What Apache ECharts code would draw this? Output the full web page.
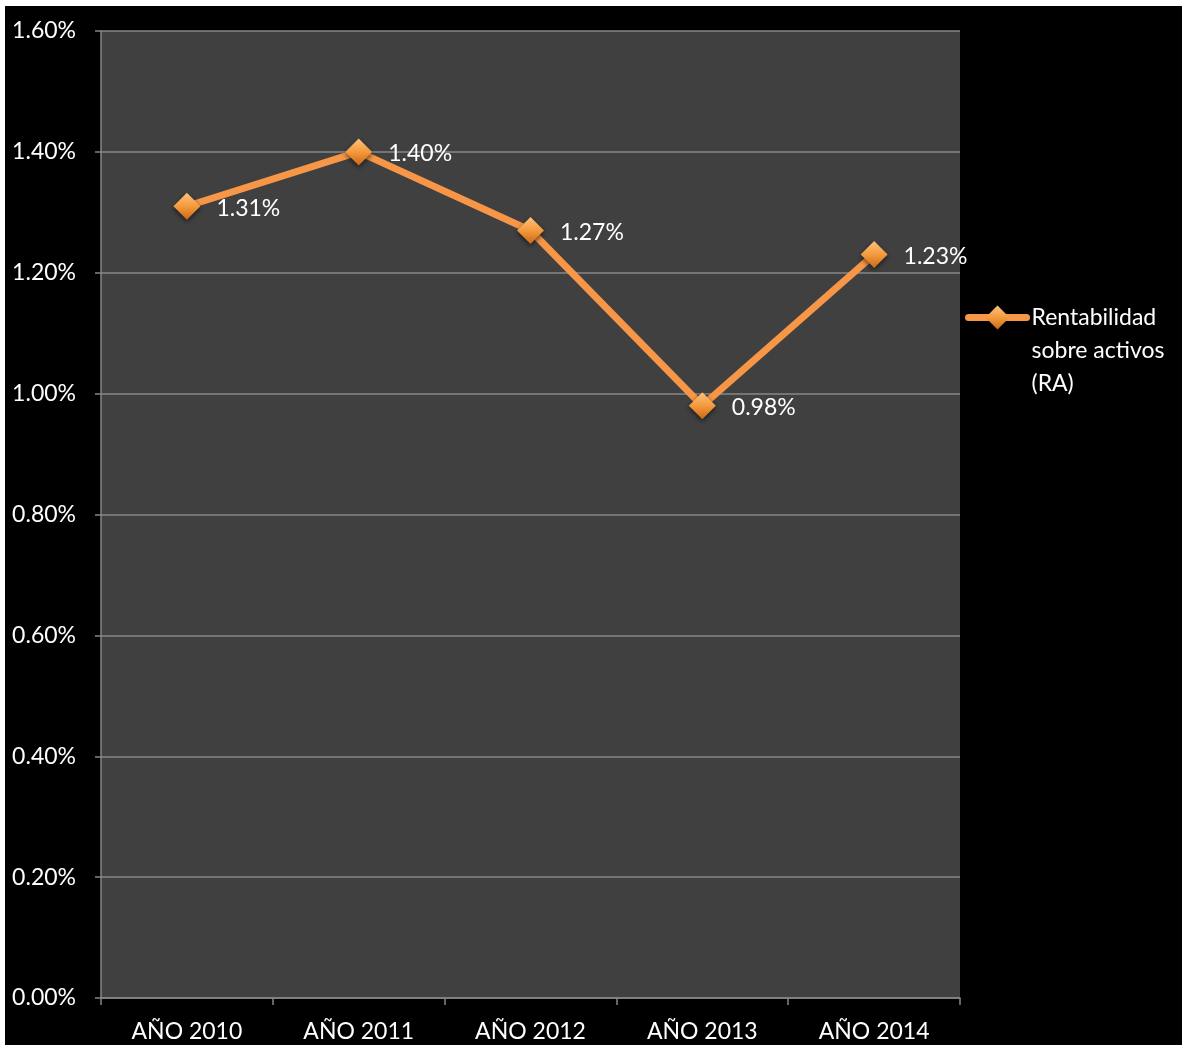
<!DOCTYPE html>
<html>
<head>
<meta charset="utf-8">
<script src="https://cdn.jsdelivr.net/npm/echarts@6/dist/echarts.min.js"></script>
<style>
  html, body { margin: 0; padding: 0; background: #ffffff; }
  #chart { position: absolute; left: 5px; top: 6px; width: 1177px; height: 1039px; background: #000000; }
</style>
</head>
<body>
<div id="chart"></div>
<script>
// Return on assets by year (percent)
const years = ['AÑO 2010', 'AÑO 2011', 'AÑO 2012', 'AÑO 2013', 'AÑO 2014'];
const roaValues = [1.31, 1.40, 1.27, 0.98, 1.23];
const seriesName = 'Rentabilidad sobre activos (RA)';
const legendLines = ['Rentabilidad', 'sobre activos', '(RA)'];

const FONT = 'Lato';
const FS = 23;
const orange = '#f79646';
const gridGray = '#878787';

const diamondFill = new echarts.graphic.LinearGradient(0, 0, 0, 1, [
  { offset: 0, color: '#fcc27e' },
  { offset: 0.5, color: '#f59a3c' },
  { offset: 1, color: '#c9681a' }
]);

const chart = echarts.init(document.getElementById('chart'));
chart.setOption({
  backgroundColor: '#000000',
  animation: false,
  grid: { left: 96, right: 222, top: 25, bottom: 47, show: true, backgroundColor: '#404040', borderWidth: 0 },
  legend: {
    left: 960,
    top: 229,
    padding: 0,
    orient: 'vertical',
    itemWidth: 58,
    itemHeight: 30,
    data: [seriesName],
    // two blank lines first so the icon sits beside the first text line
    formatter: () => '\n\n' + legendLines.join('\n'),
    lineStyle: { width: 7, cap: 'round' },
    textStyle: { color: '#ffffff', fontFamily: FONT, fontSize: FS, lineHeight: 33 }
  },
  xAxis: {
    type: 'category',
    data: years,
    boundaryGap: true,
    axisLine: { lineStyle: { color: gridGray, width: 1.5 } },
    axisTick: { show: true, length: 7, lineStyle: { color: gridGray, width: 1.5 } },
    axisLabel: { color: '#ffffff', fontFamily: FONT, fontSize: FS, margin: 22 }
  },
  yAxis: {
    type: 'value',
    min: 0,
    max: 1.6,
    interval: 0.2,
    axisLine: { show: true, lineStyle: { color: gridGray, width: 1.5 } },
    axisTick: { show: true, length: 6, lineStyle: { color: gridGray, width: 1.5 } },
    splitLine: { show: true, lineStyle: { color: gridGray, width: 1.5 } },
    axisLabel: {
      color: '#ffffff', fontFamily: FONT, fontSize: FS, margin: 25,
      formatter: v => v.toFixed(2) + '%'
    }
  },
  series: [{
    name: seriesName,
    type: 'line',
    data: roaValues,
    symbol: 'diamond',
    symbolSize: 27,
    lineStyle: { color: orange, width: 7, cap: 'round', join: 'round' },
    itemStyle: {
      color: diamondFill,
      shadowColor: 'rgba(0,0,0,0.6)',
      shadowBlur: 5,
      shadowOffsetY: 2
    },
    label: {
      show: true,
      position: 'right',
      distance: 16,
      offset: [0, 2],
      color: '#ffffff',
      fontFamily: FONT,
      fontSize: FS,
      formatter: p => p.value.toFixed(2) + '%'
    },
    z: 3
  }]
});
</script>
</body>
</html>
